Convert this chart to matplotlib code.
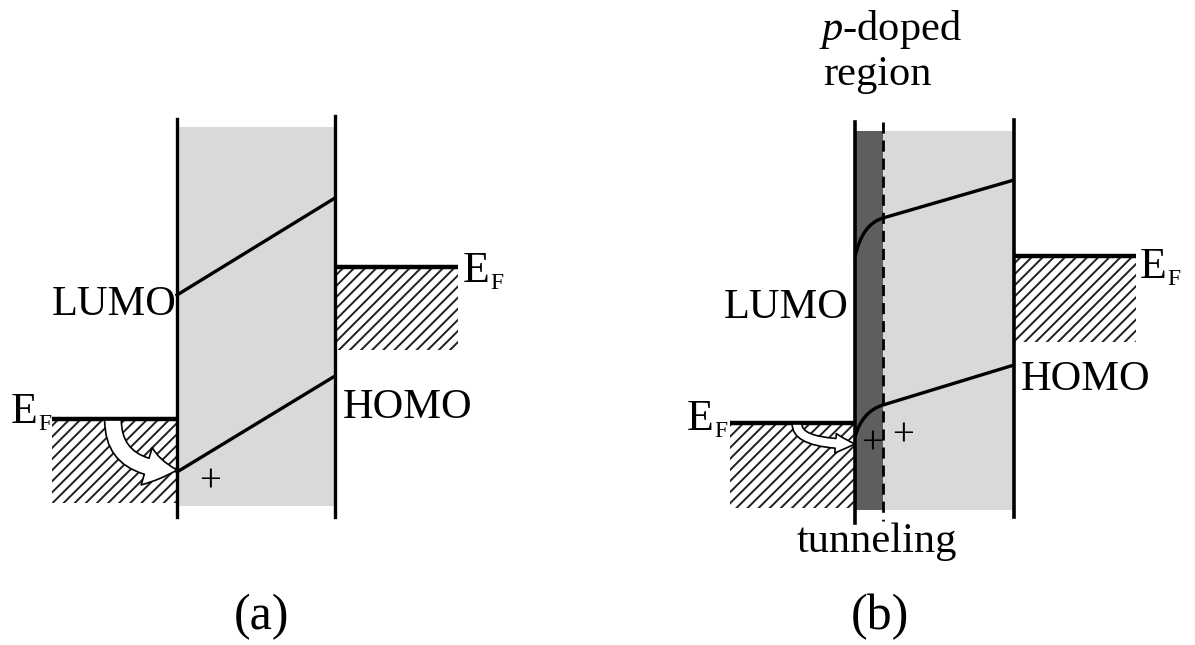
import matplotlib
matplotlib.use('Agg')
import matplotlib.pyplot as plt
import matplotlib.patches as pt
from matplotlib.path import Path

# diagram is laid out in pixel units of the 1195x645 picture (y grows downward)
W, H = 1195, 645

# panel (a): organic layer between two contacts
a_left, a_right = 177, 335
a_top, a_bot = 127, 506
a_lumo = [295, 198]            # level at left / right contact
a_homo = [472, 376]
a_ef_left = 419
a_ef_right = 267

# panel (b): same with a p-doped layer next to the left contact
b_left, b_dope, b_right = 855, 883, 1014
b_top, b_bot = 131, 510
b_lumo = [257, 218, 180]       # at contact / end of doped layer / right contact
b_homo = [437, 405, 365]
b_ef_left = 423
b_ef_right = 256

labels = ['LUMO', 'HOMO', 'tunneling', '(a)', '(b)']

plt.rcParams['font.family'] = ['Liberation Serif', 'DejaVu Serif']
plt.rcParams['hatch.linewidth'] = 1.4
plt.rcParams['mathtext.fontset'] = 'custom'
plt.rcParams['mathtext.rm'] = 'Liberation Serif'
plt.rcParams['mathtext.it'] = 'Liberation Serif:italic'

fig = plt.figure(figsize=(W / 100, H / 100), dpi=100)
ax = fig.add_axes([0, 0, 1, 1])
ax.set_xlim(0, W)
ax.set_ylim(H, 0)
ax.set_axis_off()


def metal(x0, x1, y_ef, y_bot):
    # hatch takes the edge colour, so keep a black edge of zero width
    ax.add_patch(pt.Rectangle((x0, y_ef), x1 - x0, y_bot - y_ef, facecolor='white',
                              edgecolor='#202020', lw=0, hatch='///', zorder=1))
    ax.plot([x0, x1], [y_ef, y_ef], color='black', lw=3.2, zorder=3, solid_capstyle='butt')


def ef_label(x, y):
    ax.text(x, y, 'E', fontsize=31.5, ha='left', va='baseline')
    ax.text(x + 27, y + 7, 'F', fontsize=17, ha='left', va='baseline')


def bent_arrow(p0, p1, tail, hw, hl):
    arr = pt.FancyArrowPatch(p0, p1, connectionstyle='angle3,angleA=90,angleB=0',
                             arrowstyle='simple,head_length=%g,head_width=%g,tail_width=%g' % (hl, hw, tail),
                             facecolor='white', edgecolor='black', lw=1.2,
                             shrinkA=0, shrinkB=0, zorder=4)
    ax.add_patch(arr)


# ---- panel (a)
ax.add_patch(pt.Rectangle((a_left, a_top), a_right - a_left, a_bot - a_top,
                          facecolor='#d9d9d9', edgecolor='none', zorder=0))
ax.plot([a_left, a_left], [119, 517], color='black', lw=2.4, zorder=3)
ax.plot([a_right, a_right], [116, 517], color='black', lw=2.4, zorder=3)
ax.plot([a_left, a_right], a_lumo, color='black', lw=2.4, zorder=3)
ax.plot([a_left, a_right], a_homo, color='black', lw=2.4, zorder=3)
metal(52, a_left, a_ef_left, 503)
metal(a_right, 458, a_ef_right, 350)
bent_arrow((113, a_ef_left + 1), (a_left, 470), 12, 28, 22)

ax.text(a_left, 315, labels[0], fontsize=30.5, ha='right', va='baseline')
ax.text(343, 418, labels[1], fontsize=30.5, ha='left', va='baseline')
ef_label(11, 423)
ef_label(463, 282)
ax.text(210, 492, '+', fontsize=28, ha='center', va='baseline')
ax.text(262, 617, labels[3], fontsize=36, ha='center', va='center')

# ---- panel (b)
ax.add_patch(pt.Rectangle((b_dope, b_top), b_right - b_dope, b_bot - b_top,
                          facecolor='#d9d9d9', edgecolor='none', zorder=0))
ax.add_patch(pt.Rectangle((b_left, b_top), b_dope - b_left, b_bot - b_top,
                          facecolor='#5e5e5e', edgecolor='none', zorder=0))
ax.plot([b_left, b_left], [122, 523], color='black', lw=2.6, zorder=3)
ax.plot([b_right, b_right], [120, 517], color='black', lw=2.6, zorder=3)
ax.plot([b_dope, b_dope], [122, 521], color='black', lw=2, ls=(0, (4, 2.5)), zorder=3)

for lev in (b_lumo, b_homo):
    slope = (lev[2] - lev[1]) / (b_right - b_dope)
    ctrl = (b_dope - 21, lev[1] - slope * 21)
    verts = [(b_left, lev[0]), ctrl, (b_dope, lev[1]), (b_right, lev[2])]
    codes = [Path.MOVETO, Path.CURVE3, Path.CURVE3, Path.LINETO]
    ax.add_patch(pt.PathPatch(Path(verts, codes), facecolor='none', edgecolor='black',
                              lw=2.4, zorder=3))

metal(730, b_left, b_ef_left, 508)
metal(b_right, 1136, b_ef_right, 342)
bent_arrow((797, b_ef_left + 1), (b_left, 444), 7, 14, 14)

ax.text(b_left - 6, 318, labels[0], fontsize=30.5, ha='right', va='baseline')
ax.text(1021, 390, labels[1], fontsize=30.5, ha='left', va='baseline')
ef_label(687, 430)
ef_label(1140, 278)
ax.text(872, 453, '+', fontsize=28, ha='center', va='baseline', zorder=5)
ax.text(903, 446, '+', fontsize=28, ha='center', va='baseline', zorder=5)
ax.text(890, 40, r'$\mathit{p}$-doped', fontsize=30.5, ha='center', va='baseline')
ax.text(877, 85, 'region', fontsize=30.5, ha='center', va='baseline')
ax.text(877, 552, labels[2], fontsize=30.5, ha='center', va='baseline')
ax.text(880, 617, labels[4], fontsize=36, ha='center', va='center')

fig.savefig('out.png', dpi=100, facecolor='white')
